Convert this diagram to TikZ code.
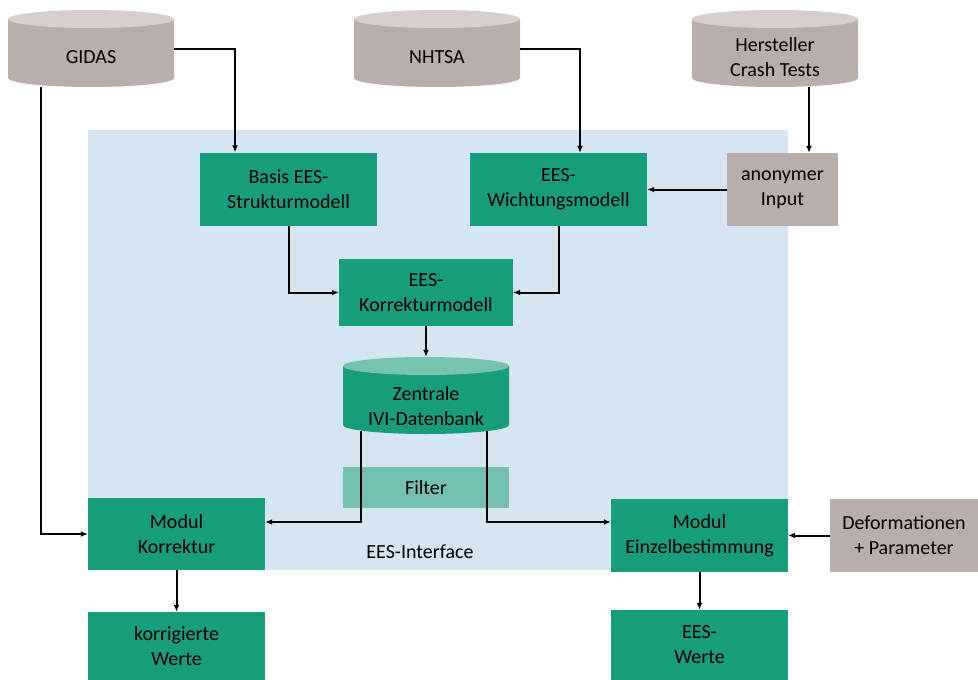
\documentclass[tikz,border=0pt]{standalone}
\usepackage{fontspec}
\setmainfont{Carlito}
\usetikzlibrary{arrows.meta,positioning,calc}
\definecolor{eesgreen}{RGB}{24,157,124}
\definecolor{srcgray}{RGB}{186,174,172}
\definecolor{srctop}{RGB}{214,207,206}
\definecolor{ifblue}{RGB}{214,229,243}
\definecolor{filtergreen}{RGB}{116,193,178}
\definecolor{dbtop}{RGB}{118,196,176}
\begin{document}
\begin{tikzpicture}[x=1pt, y=-1pt,
    every node/.style={font=\fontsize{20}{25}\selectfont, align=center, inner sep=0pt},
    box/.style={rectangle, fill=eesgreen, minimum width=177pt, minimum height=73pt},
    src/.style={rectangle, fill=srcgray, minimum height=73pt},
    db/.style 2 args={rectangle, minimum width=166pt, minimum height=77pt,
        path picture={
            \fill[#1] ([yshift=-9pt]path picture bounding box.north west)
                -- ([yshift=9pt]path picture bounding box.south west)
                arc[start angle=180, end angle=360, x radius=83pt, y radius=9pt]
                -- ([yshift=-9pt]path picture bounding box.north east) -- cycle;
            \fill[#2] ([yshift=-9pt]path picture bounding box.north)
                ellipse[x radius=83pt, y radius=9pt];
        }},
    tr/.style={-{Latex[length=7pt,width=6pt]}, line width=2pt}
]
\useasboundingbox (0,0) rectangle (978,680);
\fill[ifblue] (88,130) rectangle (788,570);
\node (iflabel) at (420,552) {EES-Interface};

\node[db={srcgray}{srctop}] (gidas) at (91,48.5) {};
\node (gidas-t) at ([yshift=-9pt]gidas.center) {GIDAS};
\node[db={srcgray}{srctop}] (nhtsa) at (437,48.5) {};
\node (nhtsa-t) at ([yshift=-9pt]nhtsa.center) {NHTSA};
\node[db={srcgray}{srctop}] (hersteller) at (775,48.5) {};
\node (hersteller-t) at ([yshift=-9pt]hersteller.center) {Hersteller\\Crash Tests};

\node[box] (basis) at (288.5,189) {Basis EES-\\Strukturmodell};
\node[box] (wichtung) at (558.5,189.5) {EES-\\Wichtungsmodell};
\node[src, minimum width=111pt] (anon) at (782.5,189.5) {anonymer\\Input};
\node[box, minimum width=174pt, minimum height=67pt] (korrektur) at (426,292.5) {EES-\\Korrekturmodell};
\node[db={eesgreen}{dbtop}] (zentrale) at (426,395.5) {};
\node (zentrale-t) at ([yshift=-11pt]zentrale.center) {Zentrale\\IVI-Datenbank};
\node[rectangle, fill=filtergreen, minimum width=166pt, minimum height=41pt] (filter) at (426,487.5) {Filter};

\node[box, minimum height=72pt] (modkorr) at (176.5,534) {Modul\\Korrektur};
\node[box] (einzel) at (699.5,535.5) {Modul\\Einzelbestimmung};
\node[src, minimum width=148pt] (deform) at (904,535.5) {Deformationen\\+ Parameter};
\node[box, minimum height=68pt] (korrwerte) at (176.5,646) {korrigierte\\Werte};
\node[box, minimum height=70pt] (eeswerte) at (699.5,645) {EES-\\Werte};

\coordinate (hc) at ([xshift=26.5pt]anon.north);

\draw[tr] (gidas.east) -| ([xshift=-53.5pt]basis.north);
\draw[tr] ([xshift=-50pt]gidas.south) |- (modkorr.west);
\draw[tr] (nhtsa.east) -| ([xshift=21.5pt]wichtung.north);
\draw[tr] (hc |- hersteller.south) -- (hc);
\draw[tr] (anon.west) -- (wichtung.east);
\draw[tr] (basis.south) |- (korrektur.west);
\draw[tr] (wichtung.south) |- (korrektur.east);
\draw[tr] (korrektur.south) -- (zentrale.north);
\draw[tr] ([xshift=-65pt,yshift=3pt]zentrale.south) |- ([yshift=12pt]modkorr.east);
\draw[tr] ([xshift=61pt,yshift=3pt]zentrale.south) |- ([yshift=13.5pt]einzel.west);
\draw[tr] (deform.west) -- (einzel.east);
\draw[tr] (modkorr.south) -- (korrwerte.north);
\draw[tr] (einzel.south) -- (eeswerte.north);
\end{tikzpicture}
\end{document}
